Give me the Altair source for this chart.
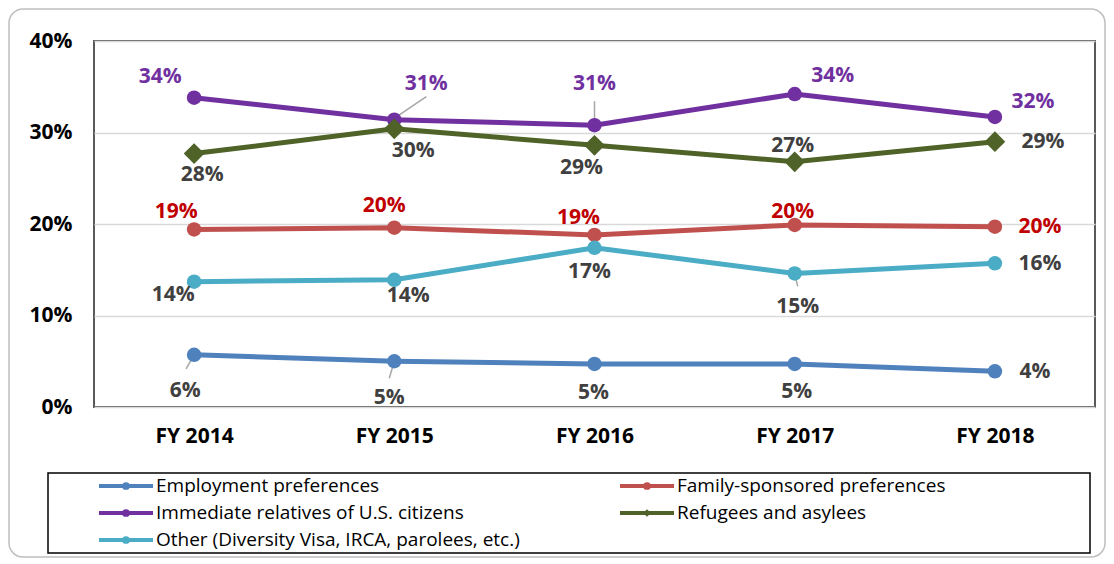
import altair as alt
import pandas as pd

# ---------------- data ----------------
years = ["FY 2014", "FY 2015", "FY 2016", "FY 2017", "FY 2018"]
series_names = [
    "Employment preferences",
    "Family-sponsored preferences",
    "Immediate relatives of U.S. citizens",
    "Refugees and asylees",
    "Other (Diversity Visa, IRCA, parolees, etc.)",
]
employment = [5.7, 5.0, 4.7, 4.7, 3.9]
family = [19.4, 19.6, 18.8, 19.9, 19.7]
immediate = [33.8, 31.4, 30.8, 34.2, 31.7]
refugees = [27.7, 30.4, 28.6, 26.8, 29.0]
other = [13.7, 13.9, 17.4, 14.6, 15.7]
y_ticks = [0, 10, 20, 30, 40]

# ---------------- styles ----------------
FONT = "Open Sans"
line_colors = ["#4F81BD", "#C0504D", "#7030A0", "#4F6228", "#4BACC6"]
label_colors = ["#404040", "#C00000", "#7030A0", "#404040", "#404040"]
shapes = ["circle", "circle", "circle", "diamond", "circle"]

all_values = [employment, family, immediate, refugees, other]
rows = []
for s, vals in zip(series_names, all_values):
    for y, v in zip(years, vals):
        rows.append({"series": s, "year": y, "value": v})
df = pd.DataFrame(rows)

color_scale = alt.Scale(domain=series_names, range=line_colors)
shape_scale = alt.Scale(domain=series_names, range=shapes)

x_enc = alt.X(
    "year:N",
    sort=years,
    scale=alt.Scale(type="point", padding=0.5),
    axis=alt.Axis(
        title=None, labelAngle=0, labelFont=FONT, labelFontSize=21,
        labelFontWeight="bold", labelColor="black", labelPadding=18,
        ticks=False, domain=False, grid=False,
    ),
)
y_enc = alt.Y(
    "value:Q",
    scale=alt.Scale(domain=[0, 40], nice=False),
    axis=alt.Axis(
        title=None, values=y_ticks, labelExpr="datum.value + '%'",
        labelFont=FONT, labelFontSize=21, labelFontWeight="bold",
        labelColor="black", labelPadding=22, ticks=False, domain=False,
        grid=True, gridColor="#D9D9D9", gridWidth=1.5,
    ),
)

base = alt.Chart(df)

lines = base.mark_line(strokeWidth=5).encode(
    x=x_enc, y=y_enc,
    color=alt.Color("series:N", scale=color_scale, legend=None),
    order=alt.Order("year:N"),
)

# leader lines (series index, year index, pixel offsets)
leaders = [
    (2, 1, (4, -4, 32, -23)),
    (2, 2, (0, 0, 0, -24)),
    (4, 3, (0, 0, 3, 13)),
    (0, 0, (0, 0, -8, 14)),
    (0, 1, (0, 0, -5, 17)),
]
leader_layers = []
for si, yi, (xo, yo, x2o, y2o) in leaders:
    leader_layers.append(
        base.transform_filter(
            (alt.datum.series == series_names[si]) & (alt.datum.year == years[yi])
        ).mark_rule(
            color="#A6A6A6", strokeWidth=1.5,
            xOffset=xo, yOffset=yo, x2Offset=x2o, y2Offset=y2o,
        ).encode(
            x=alt.X("year:N", sort=years), x2="year:N",
            y="value:Q", y2="value:Q",
        )
    )

circles = base.transform_filter(
    alt.datum.series != series_names[3]
).mark_point(filled=True, opacity=1, size=210, shape="circle").encode(
    x=alt.X("year:N", sort=years),
    y="value:Q",
    color=alt.Color("series:N", scale=color_scale, legend=None),
)
diamonds = base.transform_filter(
    alt.datum.series == series_names[3]
).mark_point(filled=True, opacity=1, size=430, shape="diamond").encode(
    x=alt.X("year:N", sort=years),
    y="value:Q",
    color=alt.Color("series:N", scale=color_scale, legend=None),
)

# label placement (dx, dy) per series / year
label_offsets = [
    [(-9, 36), (-5, 37), (-1, 29), (2, 28), (40, 1)],
    [(-18, -17), (-10, -22), (-16, -17), (-2, -13), (45, 0)],
    [(-34, -21), (32, -36), (0, -41), (38, -18), (38, -15)],
    [(8, 21), (19, 22), (-13, 23), (-2, -16), (48, 0)],
    [(-21, 13), (14, 16), (-5, 24), (3, 34), (45, 1)],
]
label_layers = []
for si, s in enumerate(series_names):
    for yi, yr in enumerate(years):
        dx, dy = label_offsets[si][yi]
        label_layers.append(
            base.transform_filter(
                (alt.datum.series == s) & (alt.datum.year == yr)
            ).transform_calculate(
                lbl="format(datum.value, '.0f') + '%'"
            ).mark_text(
                font=FONT, fontSize=21, fontWeight="bold",
                color=label_colors[si], dx=dx, dy=dy,
                align="center", baseline="middle",
            ).encode(
                x=alt.X("year:N", sort=years), y="value:Q", text="lbl:N"
            )
        )

main = alt.layer(lines, *leader_layers, circles, diamonds, *label_layers)

# ---------------- legend (drawn below the plot area) ----------------
leg_df = pd.DataFrame({
    "series": series_names,
    "col": [i % 2 for i in range(len(series_names))],
    "row": [i // 2 for i in range(len(series_names))],
})
lx = alt.X("col:Q", scale=alt.Scale(domain=[0, 1], range=[32, 553]), axis=None)
ly = alt.Y("row:Q", scale=alt.Scale(domain=[0, 2], range=[445, 499]), axis=None)
leg_base = alt.Chart(leg_df)

frame_data = leg_base.transform_aggregate(n="count()")
outer_frame = frame_data.mark_rect(
    fill=None, stroke="#BFBFBF", strokeWidth=1.5, cornerRadius=14
).encode(
    x=alt.value(-85), x2=alt.value(1011), y=alt.value(-32), y2=alt.value(516)
)
legend_frame = frame_data.mark_rect(
    fill=None, stroke="black", strokeWidth=1.5
).encode(
    x=alt.value(-46), x2=alt.value(996), y=alt.value(432), y2=alt.value(512)
)
leg_rule = leg_base.mark_rule(strokeWidth=4, xOffset=-27, x2Offset=27).encode(
    x=lx, x2="col:Q", y=ly,
    color=alt.Color("series:N", scale=color_scale, legend=None),
)
leg_pt = leg_base.mark_point(filled=True, opacity=1, size=60).encode(
    x=lx, y=ly,
    color=alt.Color("series:N", scale=color_scale, legend=None),
    shape=alt.Shape("series:N", scale=shape_scale, legend=None),
)
leg_txt = leg_base.mark_text(
    font=FONT, fontSize=19, align="left", baseline="middle", dx=30, color="black"
).encode(x=lx, y=ly, text="series:N")

legend_layer = alt.layer(outer_frame, legend_frame, leg_rule, leg_pt, leg_txt)

chart = alt.layer(main, legend_layer).resolve_scale(
    x="independent", y="independent"
).properties(
    width=1001, height=366,
    padding={"left": 0, "top": 0, "right": 0, "bottom": 0},
).configure_view(stroke="#595959", strokeWidth=2)

chart.save("out.html", embed_options={"renderer": "svg", "actions": False})
